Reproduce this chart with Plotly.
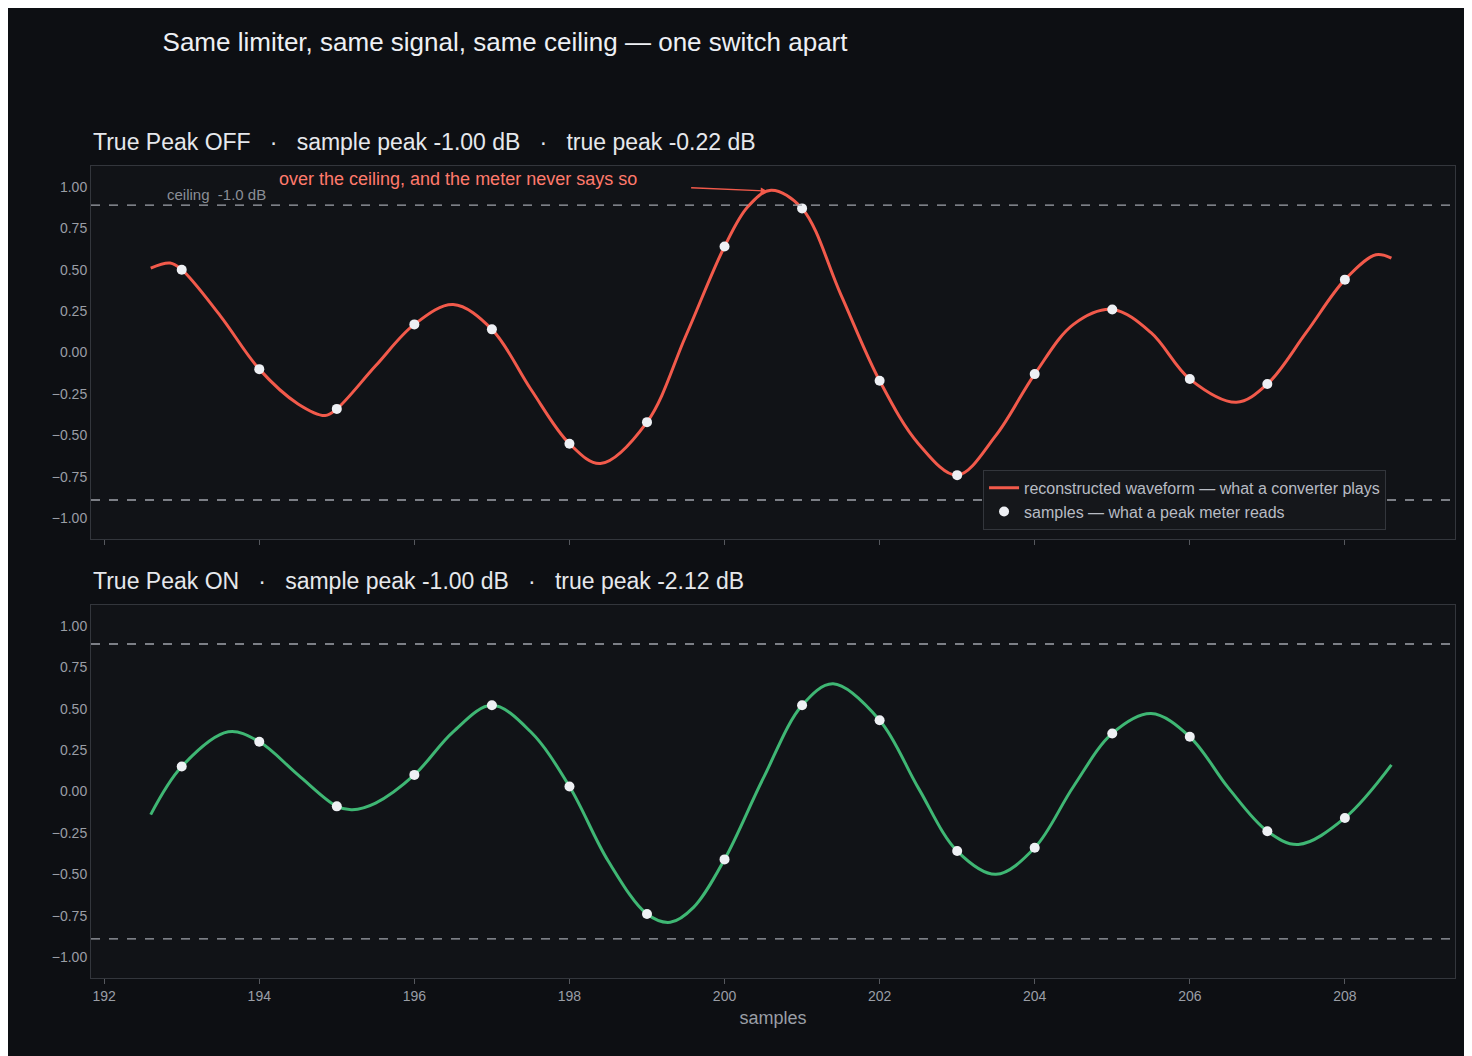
import plotly.graph_objects as go
from plotly.subplots import make_subplots

# sample positions and values
sample_x = list(range(193, 209))
off_samples = [0.50, -0.10, -0.34, 0.17, 0.14, -0.55, -0.42, 0.64, 0.87, -0.17, -0.74, -0.13, 0.26, -0.16, -0.19, 0.44]
on_samples = [0.15, 0.30, -0.09, 0.10, 0.52, 0.03, -0.74, -0.41, 0.52, 0.43, -0.36, -0.34, 0.35, 0.33, -0.24, -0.16]

# reconstructed waveform (samples + in-between points)
off_wave_x = [192.6, 192.85, 193, 193.5, 194, 194.5, 194.85, 195, 195.5, 196, 196.5, 197, 197.5, 198, 198.4, 199,
              199.5, 200, 200.3, 200.6, 201, 201.5, 202, 202.5, 203, 203.5, 204, 204.5, 205, 205.5, 206, 206.6,
              207, 207.5, 208, 208.4, 208.6]
off_wave_y = [0.51, 0.54, 0.50, 0.22, -0.10, -0.31, -0.38, -0.34, -0.08, 0.17, 0.29, 0.14, -0.22, -0.55, -0.67, -0.42,
              0.10, 0.64, 0.88, 0.98, 0.87, 0.35, -0.17, -0.55, -0.74, -0.50, -0.13, 0.17, 0.26, 0.12, -0.16, -0.30,
              -0.19, 0.12, 0.44, 0.59, 0.57]
on_wave_x = [192.6, 193, 193.6, 194, 194.5, 195, 195.2, 195.5, 196, 196.5, 197, 197.5, 198, 198.5, 199, 199.3,
             199.6, 200, 200.5, 201, 201.4, 202, 202.5, 203, 203.5, 204, 204.5, 205, 205.5, 206, 206.5, 207,
             207.4, 208, 208.6]
on_wave_y = [-0.14, 0.15, 0.36, 0.30, 0.10, -0.09, -0.11, -0.07, 0.10, 0.36, 0.52, 0.36, 0.03, -0.42, -0.74, -0.79,
             -0.70, -0.41, 0.08, 0.52, 0.65, 0.43, 0.02, -0.36, -0.50, -0.34, 0.03, 0.35, 0.47, 0.33, 0.02, -0.24,
             -0.32, -0.16, 0.16]

ceiling = 0.89
x_ticks = [192, 194, 196, 198, 200, 202, 204, 206, 208]
y_ticks = [1.0, 0.75, 0.5, 0.25, 0.0, -0.25, -0.5, -0.75, -1.0]

BG = "#0d0f13"
PANEL = "#111317"
RED = "#f25a4b"
GREEN = "#3fb774"
FONT = "Liberation Sans"

fig = make_subplots(rows=2, cols=1, shared_xaxes=False, vertical_spacing=0.081)

for row, wx, wy, sy, col in [(1, off_wave_x, off_wave_y, off_samples, RED),
                             (2, on_wave_x, on_wave_y, on_samples, GREEN)]:
    fig.add_trace(go.Scatter(x=wx, y=wy, mode="lines", line=dict(color=col, width=3, shape="spline", smoothing=1.0),
                             name="reconstructed waveform — what a converter plays", showlegend=(row == 1)),
                  row=row, col=1)
    fig.add_trace(go.Scatter(x=sample_x, y=sy, mode="markers", marker=dict(color="#eef0f4", size=10),
                             name="samples — what a peak meter reads", showlegend=(row == 1)),
                  row=row, col=1)
    for c in (ceiling, -ceiling):
        fig.add_hline(y=c, line=dict(color="#a0a4ac", width=1.3, dash="dash"), row=row, col=1)

axis_common = dict(range=[191.83, 209.42], tickvals=x_ticks, showgrid=False, zeroline=False,
                   showline=True, linecolor="#33363c", mirror=True, ticks="outside", ticklen=5,
                   tickcolor="#55585e", tickfont=dict(color="#9a9ea6", size=14))
fig.update_xaxes(**axis_common)
fig.update_xaxes(showticklabels=False, row=1, col=1)
fig.update_xaxes(title=dict(text="samples", font=dict(color="#9a9ea6", size=18), standoff=8), row=2, col=1)
fig.update_yaxes(range=[-1.126, 1.126], tickvals=y_ticks, tickformat=".2f", showgrid=False, zeroline=False,
                 showline=True, linecolor="#33363c", mirror=True, ticks="",
                 tickfont=dict(color="#9a9ea6", size=14))

fig.add_annotation(x=0, xref="x domain", y=1.025, yref="y domain", xanchor="left", yanchor="bottom",
                   text="True Peak OFF   ·   sample peak -1.00 dB   ·   true peak -0.22 dB",
                   showarrow=False, font=dict(color="#e6e8ec", size=23))
fig.add_annotation(x=0, xref="x2 domain", y=1.025, yref="y2 domain", xanchor="left", yanchor="bottom",
                   text="True Peak ON   ·   sample peak -1.00 dB   ·   true peak -2.12 dB",
                   showarrow=False, font=dict(color="#e6e8ec", size=23))
fig.add_annotation(x=192.78, y=ceiling, xref="x", yref="y", xanchor="left", yanchor="bottom",
                   text="ceiling  -1.0 dB", showarrow=False, font=dict(color="#8a8e96", size=15))
fig.add_annotation(x=200.55, y=0.975, xref="x", yref="y", ax=199.55, ay=0.995, axref="x", ayref="y",
                   text="", showarrow=True, arrowhead=2, arrowwidth=1.3, arrowcolor=RED)
fig.add_annotation(x=194.23, y=1.048, xref="x", yref="y", xanchor="left", yanchor="middle",
                   text="over the ceiling, and the meter never says so", showarrow=False,
                   font=dict(color="#ff7a6c", size=18))

fig.update_layout(
    width=1472, height=1056,
    paper_bgcolor=BG, plot_bgcolor=PANEL,
    font=dict(family=FONT, color="#e6e8ec"),
    margin=dict(l=83, r=25, t=158, b=86),
    title=dict(text="Same limiter, same signal, same ceiling — one switch apart", x=0.105, xanchor="left",
               y=0.968, yanchor="middle", font=dict(size=26, color="#eef0f4")),
    legend=dict(x=0.654, y=0.552, xref="paper", yref="paper", xanchor="left", yanchor="bottom",
                bgcolor="#15171b", bordercolor="#33363c", borderwidth=1,
                font=dict(color="#b8bcc4", size=16)),
)

fig.write_html("out.html")
